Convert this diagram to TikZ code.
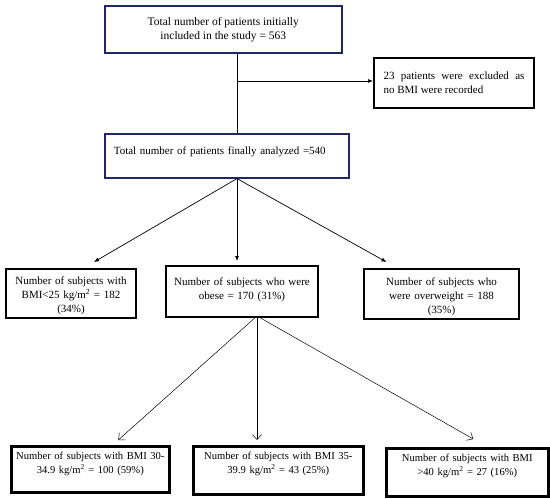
\documentclass[tikz,border=0pt]{standalone}
\usepackage{fontspec}
\setmainfont{Liberation Serif}
\usetikzlibrary{positioning,arrows.meta}
\definecolor{navy}{RGB}{30,40,100}

\begin{document}
\begin{tikzpicture}[
x=1pt, y=-1pt,
topblock/.style={
draw=navy,
line width=1.6pt,
anchor=north west,
inner sep=0pt,
font=\fontsize{11.5}{14}\selectfont
},
block/.style={
draw,
line width=2pt,
anchor=north west,
inner xsep=0pt,
inner ysep=0pt,
align=center,
font=\fontsize{11}{14}\selectfont
},
lowblock/.style={
block,
line width=2.6pt,
font=\fontsize{10.6}{14.5}\selectfont
},
arrow/.style={
->,
line width=0.7pt,
>={Latex[length=5pt,width=4pt]}
},
thinarrow/.style={
->,
line width=0.5pt,
>={Straight Barb[length=5pt,width=9pt]}
}
]
\useasboundingbox (0,0) rectangle (550,499);

%%%%%%%%%%%%%%%%%%%%%%%%%%%%%%%%%%%%%%%%%%%%%
% Enrolment
%%%%%%%%%%%%%%%%%%%%%%%%%%%%%%%%%%%%%%%%%%%%%

\node[topblock, minimum width=237pt, minimum height=47pt, align=center] (init) at (104,5)
{Total number of patients initially\\
included in the study = 563};

\node[block, minimum width=160pt, minimum height=50pt, text width=141pt, align=justify] (excl) at (373,57)
{23 patients were excluded as\linebreak
no BMI were recorded};

\node[topblock, font=\fontsize{11}{14}\selectfont, minimum width=244pt, text width=226pt, align=left,
text height=21pt, text depth=23pt, inner xsep=9pt] (final) at (104,133)
{Total number of patients finally analyzed =540};

%%%%%%%%%%%%%%%%%%%%%%%%%%%%%%%%%%%%%%%%%%%%%
% BMI groups
%%%%%%%%%%%%%%%%%%%%%%%%%%%%%%%%%%%%%%%%%%%%%

\node[block, text width=130pt, text height=15pt, text depth=34pt] (normal) at (5,268)
{Number of subjects with\\
BMI<25 kg/m\textsuperscript{2} = 182\\
(34\%)};

\node[block, text width=152pt, text height=19pt, text depth=32pt] (obese) at (165,265)
{Number of subjects who were\\
obese = 170 (31\%)};

\node[block, text width=155pt, text height=16pt, text depth=34pt] (over) at (363,268)
{Number of subjects who\\
were overweight = 188\\
(35\%)};

%%%%%%%%%%%%%%%%%%%%%%%%%%%%%%%%%%%%%%%%%%%%%
% Obesity classes
%%%%%%%%%%%%%%%%%%%%%%%%%%%%%%%%%%%%%%%%%%%%%

\node[lowblock, text width=158pt, text height=13pt, text depth=33pt] (classone) at (10,445)
{Number of subjects with BMI 30-\\
34.9 kg/m\textsuperscript{2} = 100 (59\%)};

\node[lowblock, text width=170pt, text height=13pt, text depth=35pt] (classtwo) at (192,445)
{Number of subjects with BMI 35-\\
39.9 kg/m\textsuperscript{2} = 43 (25\%)};

\node[lowblock, text width=162pt, text height=13pt, text depth=35pt] (classthree) at (385,447)
{Number of subjects with BMI\\
>40 kg/m\textsuperscript{2} = 27 (16\%)};

%%%%%%%%%%%%%%%%%%%%%%%%%%%%%%%%%%%%%%%%%%%%%
% Connections
%%%%%%%%%%%%%%%%%%%%%%%%%%%%%%%%%%%%%%%%%%%%%

\coordinate (split) at (237,81);
\coordinate (fork) at (257,316);

\draw[line width=0.7pt] (init.south -| split)--(final.north -| split);

\draw[arrow] (split)--(split -| excl.west);

\draw[arrow] (final.south -| split)--([xshift=23pt,yshift=6pt]normal.north);

\draw[arrow, shorten >=4pt] (final.south -| split)--(obese.north -| split);

\draw[arrow] (final.south -| split)--([xshift=-55pt,yshift=6pt]over.north);

\draw[thinarrow] (fork)--([xshift=28pt,yshift=5pt]classone.north);

\draw[thinarrow, shorten >=5pt] (fork)--(classtwo.north -| fork);

\draw[thinarrow] (fork)--([xshift=6pt,yshift=8pt]classthree.north);

\end{tikzpicture}
\end{document}
